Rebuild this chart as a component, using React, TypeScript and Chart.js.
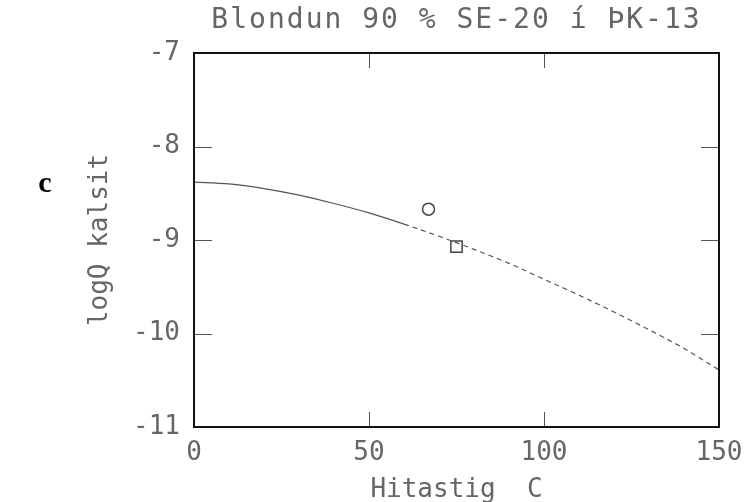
import React, { useEffect, useRef } from "react";
import { Chart, registerables } from "chart.js";

Chart.register(...registerables);

// ---- data ----
const chartTitle = "Blondun 90 % SE-20 í ÞK-13";
const xAxisTitle = "Hitastig  C";
const yAxisTitle = "logQ kalsit";
const panelLabel = "c";

const temperatures = [0, 10, 20, 30, 40, 50, 60, 70, 80, 90, 100, 110, 120, 130, 140, 150];
const logQCalcite = [-8.38, -8.4, -8.45, -8.52, -8.61, -8.71, -8.83, -8.96, -9.1, -9.25, -9.42, -9.59, -9.77, -9.96, -10.16, -10.39];

const sampleTemps = [67, 75];
const sampleLogQ = [-8.67, -9.07];
const sampleStyles = ["circle", "rect"];

const xTickValues = [0, 50, 100, 150];
const yTickValues = [-7, -8, -9, -10, -11];

const FONT = '"DejaVu Sans Mono", "Liberation Mono", monospace';
const TEXT_COLOR = "#666";

const framePlugin = {
  id: "frame",
  afterDraw(chart: any) {
    const { ctx, chartArea } = chart;
    const { left, right, top, bottom } = chartArea;
    const xs = chart.scales.x;
    const ys = chart.scales.y;
    ctx.save();
    // inward tick marks
    ctx.strokeStyle = "#555";
    ctx.lineWidth = 1;
    ctx.beginPath();
    yTickValues.forEach((v) => {
      const py = Math.round(ys.getPixelForValue(v)) + 0.5;
      if (py <= top + 2 || py >= bottom - 2) return;
      ctx.moveTo(left, py);
      ctx.lineTo(left + 18, py);
      ctx.moveTo(right, py);
      ctx.lineTo(right - 18, py);
    });
    xTickValues.forEach((v) => {
      const px = Math.round(xs.getPixelForValue(v)) + 0.5;
      if (px <= left + 2 || px >= right - 2) return;
      ctx.moveTo(px, top);
      ctx.lineTo(px, top + 15);
      ctx.moveTo(px, bottom);
      ctx.lineTo(px, bottom - 15);
    });
    ctx.stroke();
    // box
    ctx.strokeStyle = "#111";
    ctx.lineWidth = 2;
    ctx.strokeRect(left, top, right - left, bottom - top);
    // title
    ctx.fillStyle = TEXT_COLOR;
    ctx.font = "28px " + FONT;
    ctx.textAlign = "center";
    ctx.textBaseline = "middle";
    (ctx as any).letterSpacing = "2px";
    ctx.fillText(chartTitle, (left + right) / 2, 21);
    (ctx as any).letterSpacing = "0px";
    // panel label
    ctx.fillStyle = "#000";
    ctx.font = 'bold 30px "Liberation Serif", "Times New Roman", serif';
    ctx.fillText(panelLabel, 45, 184);
    ctx.restore();
  },
};

export default function App() {
  const canvasRef = useRef<HTMLCanvasElement | null>(null);

  useEffect(() => {
    if (!canvasRef.current) return;
    const chart = new Chart(canvasRef.current, {
      type: "scatter",
      data: {
        datasets: [
          {
            label: "logQ",
            data: temperatures.map((t, i) => ({ x: t, y: logQCalcite[i] })),
            showLine: true,
            borderColor: "#555",
            borderWidth: 1.2,
            pointRadius: 0,
            cubicInterpolationMode: "monotone",
            segment: {
              borderDash: (c: any) => (c.p0.parsed.x >= 60 ? [5, 4] : undefined),
            },
          } as any,
          {
            label: "samples",
            data: sampleTemps.map((t, i) => ({ x: t, y: sampleLogQ[i] })),
            pointStyle: sampleStyles as any,
            pointRadius: [6, 8],
            pointBorderColor: "#444",
            pointBackgroundColor: "rgba(0,0,0,0)",
            pointBorderWidth: 1.5,
            showLine: false,
          } as any,
        ],
      },
      options: {
        animation: false,
        responsive: true,
        maintainAspectRatio: false,
        layout: { padding: { top: 53, right: 29, left: 85, bottom: 0 } },
        plugins: {
          legend: { display: false },
          tooltip: { enabled: false },
          title: { display: false },
        },
        scales: {
          x: {
            type: "linear",
            min: 0,
            max: 150,
            grid: { display: false, drawTicks: false },
            border: { display: false },
            afterBuildTicks: (s: any) => {
              s.ticks = xTickValues.map((v) => ({ value: v }));
            },
            afterFit: (s: any) => {
              s.height = 75;
              s.paddingLeft = 0;
              s.paddingRight = 0;
            },
            ticks: {
              maxRotation: 0,
              padding: 11,
              color: TEXT_COLOR,
              font: { family: FONT, size: 26 },
              callback: (v: any) => String(v),
            },
            title: {
              display: true,
              text: xAxisTitle,
              color: TEXT_COLOR,
              font: { family: FONT, size: 26 },
              padding: { top: 0, bottom: -4 },
            },
          },
          y: {
            type: "linear",
            min: -11,
            max: -7,
            grid: { display: false, drawTicks: false },
            border: { display: false },
            afterBuildTicks: (s: any) => {
              s.ticks = yTickValues.map((v) => ({ value: v }));
            },
            afterFit: (s: any) => {
              s.width = 109;
              s.paddingTop = 0;
              s.paddingBottom = 0;
            },
            ticks: {
              padding: 14,
              color: TEXT_COLOR,
              font: { family: FONT, size: 26 },
              callback: (v: any) => String(v),
            },
            title: {
              display: true,
              text: yAxisTitle,
              color: TEXT_COLOR,
              font: { family: FONT, size: 26 },
              padding: { top: 0, bottom: 0 },
            },
          },
        },
      },
      plugins: [framePlugin],
    } as any);
    return () => chart.destroy();
  }, []);

  return (
    <div style={{ position: "fixed", left: 0, top: 0, width: 748, height: 502, background: "#fff" }}>
      <canvas ref={canvasRef} />
    </div>
  );
}
